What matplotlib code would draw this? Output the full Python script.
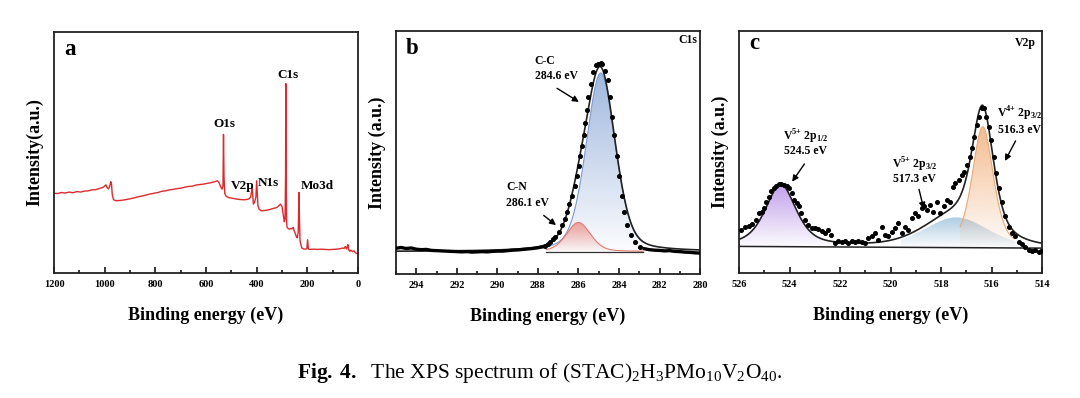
import numpy as np
import matplotlib
import matplotlib.pyplot as plt
from matplotlib.patches import Polygon
from matplotlib.ticker import MultipleLocator

plt.rcParams['font.family'] = 'Liberation Serif'
plt.rcParams['mathtext.fontset'] = 'custom'
plt.rcParams['mathtext.rm'] = 'Liberation Serif'
plt.rcParams['mathtext.bf'] = 'Liberation Serif:bold'

# ---- (a) survey spectrum, intensity in % of axis height
survey_be = [1200, 1185, 1170, 1155, 1140, 1125, 1110, 1095, 1080, 1065, 1050, 1035,
             1020, 1005, 995, 990, 985, 980, 976, 973, 970, 965, 955, 940, 925, 910,
             895, 880, 865, 850, 835, 820, 805, 790, 775, 760, 745, 730, 715, 700,
             685, 670, 655, 640, 625, 610, 595, 580, 565, 555, 548, 542, 537, 533,
             531, 529, 526, 520, 510, 495, 480, 465, 450, 440, 430, 424, 420, 418,
             416, 413, 408, 403, 400, 398, 395, 390, 380, 365, 350, 335, 320, 312,
             306, 300, 295, 291, 288, 286, 285, 284, 282, 280, 275, 270, 265, 260,
             256, 252, 248, 244, 240, 236, 233, 231, 229, 226, 222, 215, 208, 202,
             199, 196, 190, 175, 160, 145, 130, 115, 100, 85, 70, 60, 55, 50, 46,
             43, 40, 37, 33, 28, 22, 16, 10, 5, 0]
survey_int = [33.1, 33.0, 33.4, 33.2, 33.6, 33.3, 33.8, 33.6, 34.0, 34.1, 34.5, 34.6,
              35.1, 35.6, 36.6, 35.4, 34.9, 36.0, 37.9, 37.0, 32.5, 30.4, 30.0, 30.1,
              30.3, 30.6, 30.9, 31.3, 31.7, 32.0, 32.4, 32.8, 33.1, 33.4, 33.9, 34.1,
              34.5, 34.7, 35.0, 35.2, 35.6, 35.9, 36.0, 36.5, 36.7, 36.9, 37.2, 37.5,
              37.9, 38.3, 37.4, 35.8, 34.8, 36.0, 57.5, 40.0, 33.0, 31.8, 31.3, 31.0,
              30.7, 30.5, 30.4, 30.5, 30.8, 31.5, 34.0, 35.9, 33.0, 28.6, 29.5, 31.5,
              38.3, 34.0, 27.9, 26.4, 25.8, 26.0, 26.3, 26.8, 27.2, 28.0, 28.6, 27.6,
              24.0, 21.3, 22.5, 40.0, 78.6, 45.0, 21.0, 19.0, 18.4, 18.2, 18.5, 18.3,
              19.0, 17.5, 16.5, 15.3, 14.6, 17.0, 33.4, 22.0, 13.5, 12.0, 10.4, 10.0,
              9.9, 10.1, 13.8, 10.0, 9.8, 9.9, 9.8, 9.9, 9.8, 9.7, 9.8, 9.9, 10.1,
              10.4, 10.2, 11.0, 10.0, 10.8, 11.8, 9.8, 9.0, 9.5, 8.9, 9.2, 8.4, 8.1, 7.9]
survey_labels = ['O1s', 'V2p', 'N1s', 'C1s', 'Mo3d']
survey_label_pos = [(528, 62.0), (454, 36.3), (354, 37.5), (278, 82.0), (159, 36.1)]

# ---- (b) C1s
c1s_tail_l_be = [295.0, 294.75, 294.5, 294.25, 294.0, 293.75, 293.5, 293.25, 293.0,
                 292.75, 292.5, 292.25, 292.0, 291.75, 291.5, 291.25, 291.0, 290.75,
                 290.5, 290.25, 290.0, 289.75, 289.5, 289.25, 289.0, 288.75, 288.5,
                 288.25, 288.0, 287.75]
c1s_tail_l_int = [10.6, 10.9, 10.5, 10.7, 10.2, 10.0, 10.1, 9.7, 9.6, 9.5, 9.4, 9.3,
                  9.2, 9.1, 9.2, 9.0, 9.1, 9.2, 9.1, 9.3, 9.4, 9.4, 9.6, 9.8, 9.9,
                  10.1, 10.3, 10.5, 10.8, 11.2]
c1s_be = [287.63, 287.5, 287.38, 287.26, 287.14, 286.97, 286.81, 286.68, 286.57, 286.45,
          286.32, 286.19, 286.08, 285.99, 285.91, 285.83, 285.75, 285.67, 285.59, 285.51,
          285.38, 285.26, 285.15, 285.05, 284.98, 284.9, 284.82, 284.69, 284.56, 284.45,
          284.33, 284.23, 284.12, 284.0, 283.87, 283.74, 283.58, 283.42, 283.22, 282.98]
c1s_int = [11.5, 12.4, 13.3, 14.2, 15.3, 17.3, 20.1, 22.8, 25.5, 28.9, 32.2, 36.3, 40.4,
           44.4, 48.5, 52.6, 57.3, 62.1, 67.5, 72.9, 78.3, 83.1, 85.8, 86.6, 86.4, 86.8,
           86.4, 83.7, 79.7, 72.9, 64.8, 57.3, 48.5, 40.4, 32.2, 25.5, 20.1, 16.0, 13.0,
           11.2]
c1s_tail_r_be = [282.75, 282.5, 282.25, 282.0, 281.75, 281.5, 281.25, 281.0, 280.75,
                 280.5, 280.25, 280.0]
c1s_tail_r_int = [10.4, 10.0, 9.8, 9.7, 9.5, 9.6, 9.3, 9.2, 9.0, 8.9, 8.7, 8.6]
# fitted components: centre, height, fwhm, lorentz fraction
c1s_base = 9.2
c1s_peaks = {'C-C': (284.9, 73.5, 1.7, 0.3), 'C-N': (286.0, 12.0, 1.4, 0.3)}
c1s_colors = {'C-C': ('#8fabd8', '#7a9ad0'), 'C-N': ('#ee9088', '#e27a70')}

# ---- (c) V2p
v2p_be = [525.91, 525.78, 525.6, 525.47, 525.34, 525.21, 525.11, 525.02, 524.92, 524.81,
          524.72, 524.62, 524.52, 524.41, 524.32, 524.23, 524.12, 524.02, 523.92, 523.83,
          523.72, 523.62, 523.53, 523.39, 523.26, 523.13, 523.0, 522.87, 522.73, 522.6,
          522.47, 522.34, 522.2, 522.07, 521.94, 521.81, 521.67, 521.54, 521.41, 521.28,
          521.15, 521.01, 520.88, 520.75, 520.62, 520.48, 520.35, 520.22, 520.09, 519.95,
          519.82, 519.69, 519.56, 519.43, 519.29, 519.16, 519.03, 518.9, 518.76, 518.67,
          518.57, 518.43, 518.3, 518.17, 518.04, 517.9, 517.77, 517.64, 517.53, 517.44,
          517.31, 517.18, 517.08, 516.98, 516.87, 516.78, 516.69, 516.58, 516.48, 516.38,
          516.29, 516.21, 516.12, 516.03, 515.92, 515.81, 515.71, 515.59, 515.46, 515.33,
          515.19, 515.06, 514.93, 514.8, 514.66, 514.53, 514.4, 514.27, 514.13, 514.04]
v2p_int = [17.9, 19.0, 19.5, 20.3, 22.0, 25.0, 25.4, 26.8, 29.5, 31.6, 33.7, 35.0, 36.0,
           36.8, 36.8, 36.5, 36.1, 35.0, 33.0, 30.2, 29.1, 27.5, 24.7, 22.0, 19.9, 18.5,
           18.5, 18.1, 17.2, 16.5, 17.9, 15.8, 12.6, 13.3, 13.0, 13.3, 12.6, 13.3, 12.8,
           13.3, 12.8, 12.6, 14.4, 15.4, 16.5, 13.7, 19.2, 15.8, 15.1, 16.9, 18.5, 20.6,
           16.5, 19.2, 17.9, 22.7, 24.7, 23.4, 26.8, 27.5, 26.1, 28.2, 25.4, 29.5, 24.7,
           27.5, 30.2, 29.5, 35.7, 37.1, 38.5, 40.5, 41.9, 44.6, 48.1, 51.5, 56.3, 61.1,
           64.6, 68.0, 68.4, 64.6, 60.4, 54.9, 48.1, 41.2, 35.0, 29.5, 23.4, 19.2, 16.5,
           15.1, 13.0, 12.0, 10.6, 9.6, 9.2, 9.6, 8.7, 9.0]
v2p_base_ends = (11.0, 10.3)   # baseline at 526 eV and 514 eV
v2p_peaks = {'V5+ 2p1/2': (524.35, 25.5, 1.45, 0.6),
             'V5+ 2p3/2': (517.4, 12.5, 3.0, 0.3),
             'V4+ 2p3/2': (516.35, 50.0, 1.0, 0.5)}
v2p_colors = {'V5+ 2p1/2': ('#b890e8', None),
              'V5+ 2p3/2': ('#9fc4de', None),
              'V4+ 2p3/2': ('#f2b07c', '#e8a878')}


def pvoigt(x, c, h, w, eta):
    g = np.exp(-4 * np.log(2) * ((x - c) / w) ** 2)
    l = 1 / (1 + ((x - c) / (w / 2)) ** 2)
    return h * (eta * l + (1 - eta) * g)


def grad_fill(ax, x, top, base, color, a0=0.85, a1=0.03, z=2):
    verts = np.column_stack([np.r_[x, x[::-1]], np.r_[top, base[::-1]]])
    poly = Polygon(verts, closed=True, facecolor='none', edgecolor='none')
    ax.add_patch(poly)
    img = np.zeros((256, 1, 4))
    img[:, 0, :3] = matplotlib.colors.to_rgb(color)
    img[:, 0, 3] = np.linspace(a0, a1, 256)
    im = ax.imshow(img, aspect='auto', origin='upper', zorder=z,
                   extent=[x.min(), x.max(), base.min(), top.max()])
    im.set_clip_path(poly)


def style(ax, xlim, major, minor, ylab):
    ax.set_xlim(*xlim)
    ax.set_ylim(0, 100)
    ax.set_yticks([])
    ax.xaxis.set_major_locator(MultipleLocator(major))
    ax.xaxis.set_minor_locator(MultipleLocator(minor))
    ax.tick_params(axis='x', which='both', direction='in', top=False, pad=5,
                   labelsize=7.5, width=1.1)
    ax.tick_params(axis='x', which='major', length=4)
    ax.tick_params(axis='x', which='minor', length=2)
    for lab in ax.get_xticklabels():
        lab.set_fontweight('bold')
    for s in ax.spines.values():
        s.set_linewidth(1.3)
        s.set_color('#222222')
    ax.set_xlabel('Binding energy (eV)', fontsize=13, fontweight='bold')
    ax.xaxis.set_label_coords(0.5, -0.14)
    ax.set_ylabel(ylab, fontsize=13, fontweight='bold', va='center')
    ax.yaxis.set_label_coords(-0.063, 0.5)


fig = plt.figure(figsize=(10.8, 3.98), dpi=100)
ax_a = fig.add_axes([0.05, 0.314, 0.2815, 0.6055])
ax_b = fig.add_axes([0.3667, 0.3116, 0.2815, 0.6106])
ax_c = fig.add_axes([0.6843, 0.314, 0.2806, 0.608])

# (a)
ax_a.plot(survey_be, survey_int, color='#dc2a2e', lw=1.0)
for lab, (xx, yy) in zip(survey_labels, survey_label_pos):
    ax_a.text(xx, yy, lab, fontsize=9.5, fontweight='bold', ha='center', va='center')
ax_a.text(0.033, 0.905, 'a', transform=ax_a.transAxes, fontsize=16.5, fontweight='bold')
style(ax_a, (1200, 0), 200, 100, 'Intensity(a.u.)')

# (b)
xb = np.linspace(295, 280, 600)
comp_b = {k: pvoigt(xb, *p) for k, p in c1s_peaks.items()}
env_b = c1s_base + sum(comp_b.values())
mask = (xb <= 287.6) & (xb >= 282.8)
xm = xb[mask]
basem = np.full(xm.size, c1s_base)
for k in ['C-C', 'C-N']:
    fc, ec = c1s_colors[k]
    top = c1s_base + comp_b[k][mask]
    grad_fill(ax_b, xm, top, basem, fc)
    ax_b.plot(xm, top, color=ec, lw=0.8, zorder=3)
ax_b.plot(xm, basem, color='#333333', lw=0.9, zorder=3)
ax_b.plot(xb, env_b, color='#222222', lw=1.2, zorder=4)
ax_b.plot(c1s_tail_l_be, c1s_tail_l_int, color='k', lw=2.4, zorder=5)
ax_b.plot(c1s_tail_r_be, c1s_tail_r_int, color='k', lw=2.4, zorder=5)
ax_b.plot(c1s_be, c1s_int, 'o', color='k', ms=2.6, zorder=5)
ax_b.text(288.15, 87.8, 'C-C', fontsize=8.5, fontweight='bold', va='center')
ax_b.text(288.15, 81.3, '284.6 eV', fontsize=8.5, fontweight='bold', va='center')
ax_b.text(289.58, 35.6, 'C-N', fontsize=8.5, fontweight='bold', va='center')
ax_b.text(289.58, 29.1, '286.1 eV', fontsize=8.5, fontweight='bold', va='center')
arw = dict(arrowstyle='-|>', color='k', lw=1.0, mutation_scale=9)
ax_b.annotate('', xy=(285.86, 70.2), xytext=(287.17, 77.0), arrowprops=arw)
ax_b.annotate('', xy=(287.0, 19.4), xytext=(287.82, 24.8), arrowprops=arw)
ax_b.text(0.033, 0.904, 'b', transform=ax_b.transAxes, fontsize=16.5, fontweight='bold')
ax_b.text(0.99, 0.949, 'C1s', transform=ax_b.transAxes, fontsize=8.5,
          fontweight='bold', ha='right')
style(ax_b, (295, 280), 2, 1, 'Intensity (a.u.)')

# (c)
xc = np.linspace(526, 514, 600)
base_c = np.interp(xc, [514, 526], [v2p_base_ends[1], v2p_base_ends[0]])
comp_c = {k: pvoigt(xc, *p) for k, p in v2p_peaks.items()}
env_c = base_c + sum(comp_c.values())
ranges = {'V5+ 2p1/2': (526, 522.3), 'V5+ 2p3/2': (519.6, 514.6),
          'V4+ 2p3/2': (517.25, 515.1)}
for k in ['V5+ 2p1/2', 'V5+ 2p3/2', 'V4+ 2p3/2']:
    lo, hi = ranges[k][1], ranges[k][0]
    m = (xc >= lo) & (xc <= hi)
    top = base_c[m] + comp_c[k][m]
    fc, ec = v2p_colors[k]
    grad_fill(ax_c, xc[m], top, base_c[m], fc)
    if ec:
        ax_c.plot(xc[m], top, color=ec, lw=0.8, zorder=3)
ax_c.plot(xc, base_c, color='#222222', lw=1.1, zorder=4)
ax_c.plot(xc, env_c, color='#222222', lw=1.2, zorder=4)
ax_c.plot(v2p_be, v2p_int, 'o', color='k', ms=2.6, zorder=5)
lab_c = [(523.35, 56.2, r'V$^{\mathbf{5{+}}}$ 2p$_{\mathbf{1/2}}$'),
         (523.35, 50.4, '524.5 eV'),
         (519.06, 44.7, r'V$^{\mathbf{5{+}}}$ 2p$_{\mathbf{3/2}}$'),
         (519.06, 38.7, '517.3 eV'),
         (514.89, 65.7, r'V$^{\mathbf{4{+}}}$ 2p$_{\mathbf{3/2}}$'),
         (514.89, 59.3, '516.3 eV')]
for xx, yy, t in lab_c:
    ax_c.text(xx, yy, t, fontsize=8.5, fontweight='bold', ha='center', va='center')
ax_c.annotate('', xy=(523.96, 36.8), xytext=(523.35, 46.0), arrowprops=arw)
ax_c.annotate('', xy=(518.66, 25.4), xytext=(518.9, 35.7), arrowprops=arw)
ax_c.annotate('', xy=(515.52, 45.3), xytext=(515.0, 55.6), arrowprops=arw)
ax_c.text(0.033, 0.925, 'c', transform=ax_c.transAxes, fontsize=16.5, fontweight='bold')
ax_c.text(0.979, 0.939, 'V2p', transform=ax_c.transAxes, fontsize=8.5,
          fontweight='bold', ha='right')
style(ax_c, (526, 514), 2, 1, 'Intensity (a.u.)')

fig.text(0.5, 0.062, r'$\mathbf{Fig.\,4.}$  The XPS spectrum of (STAC)$_2$H$_3$PMo$_{10}$V$_2$O$_{40}$.',
         fontsize=15.5, ha='center', va='center')

fig.savefig('out.png', dpi=100)
